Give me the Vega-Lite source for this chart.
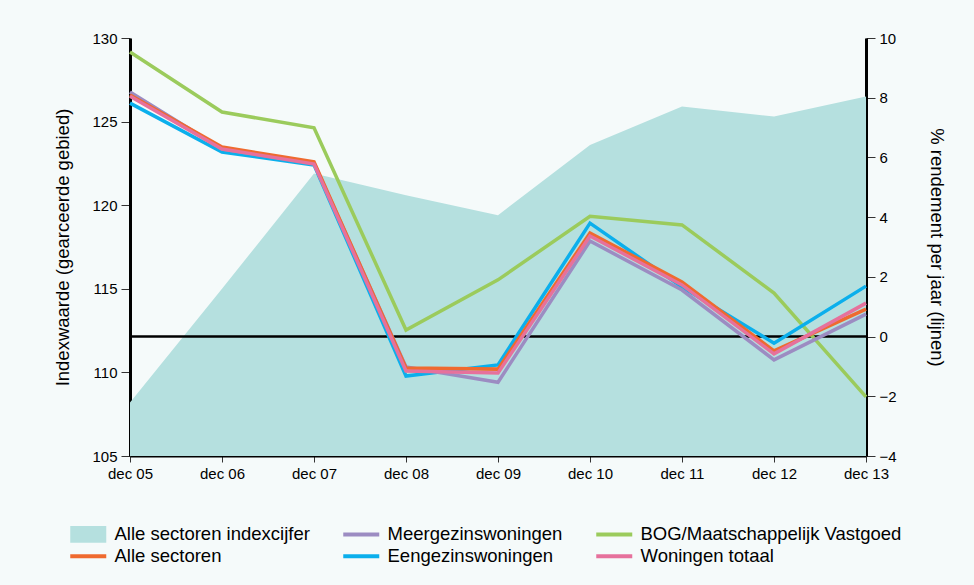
{
  "$schema": "https://vega.github.io/schema/vega-lite/v6.json",
  "autosize": {"type": "none"},
  "width": 736,
  "height": 418,
  "padding": {"left": 130, "top": 38, "right": 108, "bottom": 129},
  "background": "#f5fafa",
  "config": {
    "view": {"stroke": null},
    "font": "Liberation Sans",
    "axis": {"grid": false, "labelFont": "Liberation Sans", "titleFont": "Liberation Sans", "labelColor": "#000", "titleColor": "#000", "labelFontSize": 15, "titleFontSize": 18.5, "titleFontWeight": "normal", "tickColor": "#333", "tickSize": 9}
  },
  "datasets": {
    "index": [
      {"maand": "dec 05", "index": 108.2},
      {"maand": "dec 06", "index": 115.0},
      {"maand": "dec 07", "index": 121.9},
      {"maand": "dec 08", "index": 120.6},
      {"maand": "dec 09", "index": 119.4},
      {"maand": "dec 10", "index": 123.6},
      {"maand": "dec 11", "index": 125.9},
      {"maand": "dec 12", "index": 125.3},
      {"maand": "dec 13", "index": 126.5}
    ],
    "rendement": [
      {"maand": "dec 05", "reeks": "BOG/Maatschappelijk Vastgoed", "pct": 9.53},
      {"maand": "dec 06", "reeks": "BOG/Maatschappelijk Vastgoed", "pct": 7.52},
      {"maand": "dec 07", "reeks": "BOG/Maatschappelijk Vastgoed", "pct": 6.99},
      {"maand": "dec 08", "reeks": "BOG/Maatschappelijk Vastgoed", "pct": 0.22},
      {"maand": "dec 09", "reeks": "BOG/Maatschappelijk Vastgoed", "pct": 1.9},
      {"maand": "dec 10", "reeks": "BOG/Maatschappelijk Vastgoed", "pct": 4.03},
      {"maand": "dec 11", "reeks": "BOG/Maatschappelijk Vastgoed", "pct": 3.74},
      {"maand": "dec 12", "reeks": "BOG/Maatschappelijk Vastgoed", "pct": 1.46},
      {"maand": "dec 13", "reeks": "BOG/Maatschappelijk Vastgoed", "pct": -2.02},
      {"maand": "dec 05", "reeks": "Eengezinswoningen", "pct": 7.82},
      {"maand": "dec 06", "reeks": "Eengezinswoningen", "pct": 6.18},
      {"maand": "dec 07", "reeks": "Eengezinswoningen", "pct": 5.75},
      {"maand": "dec 08", "reeks": "Eengezinswoningen", "pct": -1.32},
      {"maand": "dec 09", "reeks": "Eengezinswoningen", "pct": -0.95},
      {"maand": "dec 10", "reeks": "Eengezinswoningen", "pct": 3.8},
      {"maand": "dec 11", "reeks": "Eengezinswoningen", "pct": 1.66},
      {"maand": "dec 12", "reeks": "Eengezinswoningen", "pct": -0.22},
      {"maand": "dec 13", "reeks": "Eengezinswoningen", "pct": 1.69},
      {"maand": "dec 05", "reeks": "Meergezinswoningen", "pct": 8.19},
      {"maand": "dec 06", "reeks": "Meergezinswoningen", "pct": 6.28},
      {"maand": "dec 07", "reeks": "Meergezinswoningen", "pct": 5.81},
      {"maand": "dec 08", "reeks": "Meergezinswoningen", "pct": -1.02},
      {"maand": "dec 09", "reeks": "Meergezinswoningen", "pct": -1.53},
      {"maand": "dec 10", "reeks": "Meergezinswoningen", "pct": 3.2},
      {"maand": "dec 11", "reeks": "Meergezinswoningen", "pct": 1.56},
      {"maand": "dec 12", "reeks": "Meergezinswoningen", "pct": -0.78},
      {"maand": "dec 13", "reeks": "Meergezinswoningen", "pct": 0.75},
      {"maand": "dec 05", "reeks": "Alle sectoren", "pct": 8.09},
      {"maand": "dec 06", "reeks": "Alle sectoren", "pct": 6.35},
      {"maand": "dec 07", "reeks": "Alle sectoren", "pct": 5.85},
      {"maand": "dec 08", "reeks": "Alle sectoren", "pct": -1.05},
      {"maand": "dec 09", "reeks": "Alle sectoren", "pct": -1.09},
      {"maand": "dec 10", "reeks": "Alle sectoren", "pct": 3.47},
      {"maand": "dec 11", "reeks": "Alle sectoren", "pct": 1.83},
      {"maand": "dec 12", "reeks": "Alle sectoren", "pct": -0.48},
      {"maand": "dec 13", "reeks": "Alle sectoren", "pct": 0.92},
      {"maand": "dec 05", "reeks": "Woningen totaal", "pct": 8.05},
      {"maand": "dec 06", "reeks": "Woningen totaal", "pct": 6.28},
      {"maand": "dec 07", "reeks": "Woningen totaal", "pct": 5.78},
      {"maand": "dec 08", "reeks": "Woningen totaal", "pct": -1.15},
      {"maand": "dec 09", "reeks": "Woningen totaal", "pct": -1.22},
      {"maand": "dec 10", "reeks": "Woningen totaal", "pct": 3.37},
      {"maand": "dec 11", "reeks": "Woningen totaal", "pct": 1.73},
      {"maand": "dec 12", "reeks": "Woningen totaal", "pct": -0.58},
      {"maand": "dec 13", "reeks": "Woningen totaal", "pct": 1.12}
    ],
    "nul": [{"pct": 0}]
  },
  "layer": [
    {
      "data": {"name": "index"},
      "mark": {"type": "area", "clip": true, "opacity": 1},
      "encoding": {
        "x": {
          "field": "maand", "type": "ordinal", "sort": null,
          "scale": {"type": "point", "padding": 0},
          "axis": {"title": null, "labelAngle": 0, "domainColor": "#000", "domainWidth": 2, "labelPadding": 4, "tickSize": 6}
        },
        "y": {
          "field": "index", "type": "quantitative",
          "scale": {"domain": [105, 130], "zero": false, "nice": false},
          "axis": {"title": "Indexwaarde (gearceerde gebied)", "values": [105, 110, 115, 120, 125, 130], "domainColor": "#000", "domainWidth": 3, "labelPadding": 4, "titlePadding": 19}
        },
        "y2": {"datum": 105},
        "color": {"datum": "Alle sectoren indexcijfer", "type": "nominal"}
      }
    },
    {
      "layer": [
        {
          "data": {"name": "nul"},
          "mark": {"type": "rule", "color": "#000", "strokeWidth": 2.5},
          "encoding": {
            "y": {"field": "pct", "type": "quantitative"}
          }
        },
        {
          "data": {"name": "rendement"},
          "mark": {"type": "line", "strokeWidth": 3.5},
          "encoding": {
            "x": {"field": "maand", "type": "ordinal", "sort": null},
            "y": {
              "field": "pct", "type": "quantitative",
              "scale": {"domain": [-4, 10], "nice": false, "zero": false},
              "axis": {"orient": "right", "title": "% rendement per jaar (lijnen)", "values": [-4, -2, 0, 2, 4, 6, 8, 10], "domainColor": "#000", "domainWidth": 3, "labelPadding": 4, "titlePadding": 30}
            },
            "color": {
              "field": "reeks", "type": "nominal",
              "scale": {
                "domain": ["Alle sectoren indexcijfer", "Meergezinswoningen", "BOG/Maatschappelijk Vastgoed", "Alle sectoren", "Eengezinswoningen", "Woningen totaal"],
                "range": ["#b5e0df", "#9c8cc2", "#9bcb5c", "#ef6a2f", "#0bafec", "#e6719c"]
              },
              "legend": {
                "title": null,
                "orient": "none",
                "legendX": -51,
                "legendY": 487,
                "direction": "horizontal",
                "columns": 3,
                "columnPadding": 25,
                "rowPadding": 3,
                "symbolType": "stroke",
                "symbolSize": 1296,
                "symbolStrokeWidth": 4,
                "labelFont": "Liberation Sans",
                "labelFontSize": 18.5,
                "labelColor": "#000",
                "labelLimit": 400,
                "labelOffset": 17,
                "padding": 0,
                "encode": {
                  "symbols": {
                    "update": {
                      "shape": {"signal": "datum.value === 'Alle sectoren indexcijfer' ? 'M-1,-0.46H1V0.46H-1Z' : 'stroke'"},
                      "fill": {"signal": "datum.value === 'Alle sectoren indexcijfer' ? '#b5e0df' : 'transparent'"},
                      "strokeWidth": {"signal": "datum.value === 'Alle sectoren indexcijfer' ? 0 : 4"}
                    }
                  }
                }
              }
            }
          }
        }
      ]
    }
  ],
  "resolve": {"scale": {"y": "independent"}, "axis": {"y": "independent"}}
}
